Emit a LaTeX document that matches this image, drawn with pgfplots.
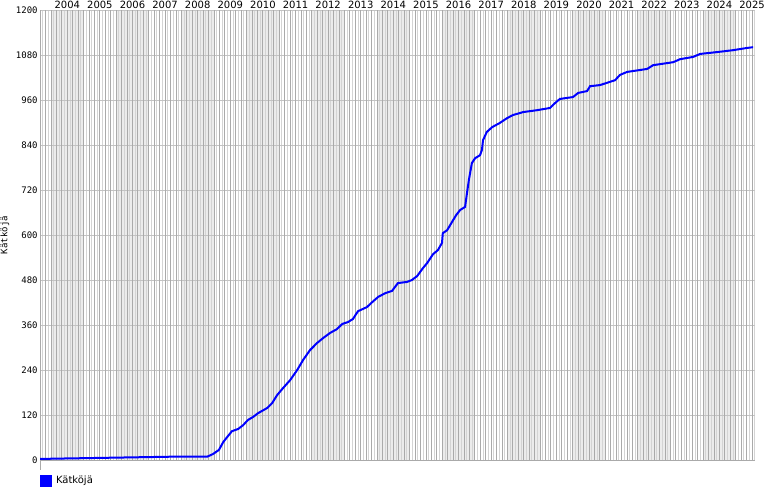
\documentclass[border=0pt]{standalone}
\usepackage{fontspec}
\setmainfont{DejaVu Sans}
\newfontfamily\monofont{DejaVu Sans Mono}
\usepackage{pgfplots}
\pgfplotsset{compat=1.18}
\definecolor{darkgridc}{RGB}{170,170,170}
\definecolor{lightgridc}{RGB}{212,212,212}
\definecolor{hgridc}{RGB}{195,195,195}
\definecolor{shadec}{RGB}{236,236,236}
\definecolor{linec}{RGB}{0,0,255}
\begin{document}
\begin{tikzpicture}
\begin{axis}[
  set layers=standard,
  scale only axis, width=357.5pt, height=225pt,
  xmin=43.96, xmax=307.1, ymin=0, ymax=1200,
  axis line style={draw=none},
  /pgf/number format/assume math mode=true,
  /pgf/number format/1000 sep={},
  ytick={0,120,...,1200},
  yticklabel style={font=\monofont\fontsize{4.5}{5}\selectfont, inner xsep=1pt},
  ymajorgrids,
  major grid style={hgridc, line width=0.45pt},
  xtick={54,66,...,306},
  xticklabels={2004,2005,2006,2007,2008,2009,2010,2011,2012,2013,2014,2015,2016,2017,2018,2019,2020,2021,2022,2023,2024,2025},
  xticklabel pos=upper,
  xticklabel style={font=\fontsize{5}{6}\selectfont, inner sep=0.5pt},
  major tick length=0pt, minor tick length=0pt,
  minor xtick={45,47,...,307},
  xminorgrids,
  minor grid style={lightgridc, line width=0.45pt},
  extra x ticks={44,46,...,306},
  extra x tick labels={},
  extra x tick style={xmajorgrids=true, ymajorgrids=false, major grid style={darkgridc, line width=0.45pt}, major tick length=0pt},
  ylabel={Kätköjä},
  ylabel style={at={(axis description cs:-0.049,0.5)}, anchor=center, inner sep=0pt, font=\monofont\fontsize{4.5}{5}\selectfont},
  legend style={at={(0,-0.047)}, anchor=west, draw=none, fill=none, inner sep=0pt, outer sep=0pt,
    font=\fontsize{5}{6}\selectfont, legend cell align=left},
  legend image code/.code={\fill[linec] (0pt,-2.5pt) rectangle (5pt,2.5pt);},
  clip=false,
]
\begin{pgfonlayer}{axis background}
\fill[shadec] (axis cs:48,0) rectangle (axis cs:60,1200);
\fill[shadec] (axis cs:72,0) rectangle (axis cs:84,1200);
\fill[shadec] (axis cs:96,0) rectangle (axis cs:108,1200);
\fill[shadec] (axis cs:120,0) rectangle (axis cs:132,1200);
\fill[shadec] (axis cs:144,0) rectangle (axis cs:156,1200);
\fill[shadec] (axis cs:168,0) rectangle (axis cs:180,1200);
\fill[shadec] (axis cs:192,0) rectangle (axis cs:204,1200);
\fill[shadec] (axis cs:216,0) rectangle (axis cs:228,1200);
\fill[shadec] (axis cs:240,0) rectangle (axis cs:252,1200);
\fill[shadec] (axis cs:264,0) rectangle (axis cs:276,1200);
\fill[shadec] (axis cs:288,0) rectangle (axis cs:300,1200);
\end{pgfonlayer}
\draw[darkgridc, line width=0.45pt] (rel axis cs:0,1) -- (rel axis cs:0,-0.022);
\draw[darkgridc, line width=0.45pt] (rel axis cs:0,0) -- (rel axis cs:1,0);
\addplot[linec, line width=1pt] coordinates {
(44.0,3) (51.4,4) (67.9,6) (92.5,9) (105.5,9) (107.6,16) (109.8,27) (111.4,48)
(112.8,61) (114.6,77) (116.9,83) (118.7,93) (120.5,107) (122.4,115) (124.2,125)
(127.6,139) (129.4,152) (131.2,173) (133.4,192) (136.0,213) (138.6,240) (140.8,267)
(143.3,293) (145.9,312) (148.1,325) (150.7,339) (153.2,349) (155.2,363) (157.3,368)
(159.1,376) (161.0,397) (164.3,408) (166.2,421) (168.4,435) (171.0,445) (173.5,451)
(175.7,472) (179.0,475) (180.8,480) (182.8,491) (184.9,512) (186.4,525) (188.6,549)
(190.4,560) (191.9,579) (192.2,605) (193.8,613) (195.6,635) (197.1,653) (198.6,667)
(200.4,675) (201.1,712) (201.8,747) (202.9,792) (204.1,805) (205.9,813) (206.6,827)
(207.0,853) (208.4,875) (210.4,888) (213.2,899) (215.9,912) (218.0,920) (221.8,928)
(226.9,933) (231.7,939) (233.5,952) (235.3,963) (240.1,968) (242.0,979) (245.3,984)
(246.4,997) (250.1,1000) (255.6,1013) (257.4,1027) (260.0,1035) (267.4,1043)
(269.6,1053) (277.0,1061) (279.5,1069) (284.3,1075) (286.9,1083) (293.2,1088)
(299.0,1093) (304.2,1099) (306.4,1101)
};
\addlegendentry{Kätköjä}
\end{axis}
\path (-20pt,-20pt) rectangle (365pt,230pt);
\end{tikzpicture}
\end{document}
